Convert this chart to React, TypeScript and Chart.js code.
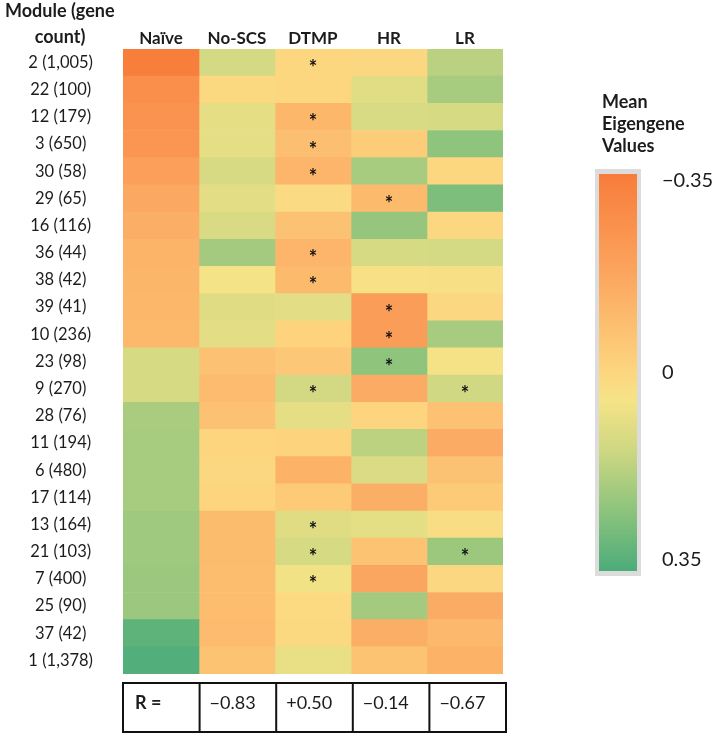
import React, { useEffect, useRef } from "react";
import { Chart, registerables } from "chart.js";

Chart.register(...registerables);

// ---- Data ----
const modules = [
  "2 (1,005)", "22 (100)", "12 (179)", "3 (650)", "30 (58)", "29 (65)", "16 (116)",
  "36 (44)", "38 (42)", "39 (41)", "10 (236)", "23 (98)", "9 (270)", "28 (76)",
  "11 (194)", "6 (480)", "17 (114)", "13 (164)", "21 (103)", "7 (400)", "25 (90)",
  "37 (42)", "1 (1,378)",
];
const groups = ["Naïve", "No-SCS", "DTMP", "HR", "LR"];

const naive = [-0.34, -0.27, -0.25, -0.24, -0.2, -0.16, -0.14, -0.12, -0.115, -0.11, -0.105, 0.12, 0.12, 0.197, 0.2, 0.2, 0.2, 0.215, 0.215, 0.22, 0.22, 0.32, 0.34];
const noScs = [0.124, 0.01, 0.086, 0.088, 0.115, 0.09, 0.113, 0.207, 0.05, 0.1, 0.09, -0.075, -0.096, -0.075, -0.005, 0.005, -0.005, -0.093, -0.093, -0.09, -0.09, -0.096, -0.068];
const dtmp = [0.0, 0.0, -0.11, -0.086, -0.118, 0.02, -0.07, -0.118, -0.1, 0.09, -0.01, -0.054, 0.126, 0.086, -0.01, -0.125, -0.043, 0.1, 0.12, 0.06, 0.015, 0.01, 0.078];
const hr = [0.005, 0.095, 0.113, -0.035, 0.2, -0.1, 0.229, 0.12, 0.038, -0.21, -0.21, 0.24, -0.154, -0.005, 0.167, 0.11, -0.14, 0.088, -0.068, -0.17, 0.208, -0.143, -0.068];
const lr = [0.172, 0.2, 0.12, 0.24, 0.0, 0.27, 0.005, 0.124, 0.035, 0.005, 0.2, 0.048, 0.13, -0.075, -0.154, -0.07, -0.043, 0.025, 0.219, 0.005, -0.15, -0.107, -0.13];

const naiveStars: string[] = [];
const noScsStars: string[] = [];
const dtmpStars = ["2 (1,005)", "12 (179)", "3 (650)", "30 (58)", "36 (44)", "38 (42)", "9 (270)", "13 (164)", "21 (103)", "7 (400)"];
const hrStars = ["29 (65)", "39 (41)", "10 (236)", "23 (98)"];
const lrStars = ["9 (270)", "21 (103)"];

const rLabel = "R =";
const rValues = ["−0.83", "+0.50", "−0.14", "−0.67"];

const legendTitle = ["Mean", "Eigengene", "Values"];
const legendTickValues = [-0.35, 0, 0.35];
const legendTickLabels = ["−0.35", "0", "0.35"];
const scaleMin = -0.35;
const scaleMax = 0.35;

// colour scale stops (value -> rgb)
const colorStops: [number, [number, number, number]][] = [
  [-0.35, [248, 124, 58]],
  [-0.175, [251, 165, 95]],
  [0, [253, 214, 128]],
  [0.05, [245, 227, 135]],
  [0.14, [205, 215, 130]],
  [0.245, [140, 195, 125]],
  [0.35, [76, 172, 122]],
];

function rgb(c: number[]) {
  return `rgb(${Math.round(c[0])},${Math.round(c[1])},${Math.round(c[2])})`;
}
function colorFor(v: number): string {
  if (v <= colorStops[0][0]) return rgb(colorStops[0][1]);
  for (let i = 1; i < colorStops.length; i++) {
    const [v1, c1] = colorStops[i];
    const [v0, c0] = colorStops[i - 1];
    if (v <= v1) {
      const t = (v - v0) / (v1 - v0);
      return rgb([c0[0] + (c1[0] - c0[0]) * t, c0[1] + (c1[1] - c0[1]) * t, c0[2] + (c1[2] - c0[2]) * t]);
    }
  }
  return rgb(colorStops[colorStops.length - 1][1]);
}

const series = [naive, noScs, dtmp, hr, lr];
const stars = [naiveStars, noScsStars, dtmpStars, hrStars, lrStars];

const FONT = "Lato, 'Open Sans', sans-serif";
const TEXT = "#1c1c1c";

const decorPlugin = {
  id: "decor",
  afterDatasetsDraw(chart: any) {
    const ctx = chart.ctx;
    ctx.save();
    ctx.fillStyle = "#111";
    ctx.font = `bold 20px ${FONT}`;
    ctx.textAlign = "center";
    ctx.textBaseline = "middle";
    stars.forEach((list, c) => {
      const meta = chart.getDatasetMeta(c);
      list.forEach((m) => {
        const r = modules.indexOf(m);
        if (r < 0) return;
        const p = meta.data[r].getCenterPoint();
        ctx.fillText("*", p.x, p.y + 6);
      });
    });
    ctx.restore();
  },
  afterDraw(chart: any) {
    const ctx = chart.ctx;
    const ca = chart.chartArea;
    const xs = chart.scales.x;
    ctx.save();

    // Row axis title
    ctx.fillStyle = TEXT;
    ctx.font = `bold 18px ${FONT}`;
    ctx.textBaseline = "middle";
    ctx.textAlign = "left";
    ctx.fillText("Module (gene", 5, 11);
    ctx.textAlign = "center";
    ctx.fillText("count)", 60, 37);

    // R table
    const tTop = ca.bottom + 9;
    const tBot = ca.bottom + 58;
    const tLeft = xs.getPixelForValue(0);
    const tRight = xs.getPixelForValue(groups.length) + 3;
    ctx.strokeStyle = "#111";
    ctx.lineWidth = 2;
    ctx.strokeRect(tLeft, tTop, tRight - tLeft, tBot - tTop);
    const colEdges: number[] = [];
    for (let c = 0; c <= groups.length; c++) {
      colEdges.push(tLeft + ((tRight - tLeft) * c) / groups.length);
    }
    for (let c = 1; c < groups.length; c++) {
      ctx.beginPath();
      ctx.moveTo(colEdges[c], tTop);
      ctx.lineTo(colEdges[c], tBot);
      ctx.stroke();
    }
    ctx.fillStyle = TEXT;
    ctx.textAlign = "left";
    ctx.textBaseline = "middle";
    ctx.font = `bold 18px ${FONT}`;
    ctx.fillText(rLabel, colEdges[0] + 12, tTop + 20);
    ctx.font = `18px ${FONT}`;
    rValues.forEach((t, i) => {
      ctx.fillText(t, colEdges[i + 1] + 10, tTop + 20);
    });

    // Colour legend
    const lx = ca.right + 96;
    ctx.font = `bold 18px ${FONT}`;
    ctx.textAlign = "left";
    legendTitle.forEach((t, i) => ctx.fillText(t, lx + 3, 102 + i * 22));
    const barT = ca.top + 125;
    const barB = barT + 397;
    const barL = lx;
    const barR = lx + 38;
    ctx.fillStyle = "#dcdcdd";
    ctx.fillRect(barL - 4, barT - 5, barR - barL + 8, barB - barT + 10);
    const grad = ctx.createLinearGradient(0, barT, 0, barB);
    colorStops.forEach(([v, c]) => {
      grad.addColorStop((v - scaleMin) / (scaleMax - scaleMin), rgb(c));
    });
    ctx.fillStyle = grad;
    ctx.fillRect(barL, barT, barR - barL, barB - barT);
    ctx.fillStyle = TEXT;
    ctx.font = `20px ${FONT}`;
    legendTickValues.forEach((v, i) => {
      let y = barT + ((v - scaleMin) / (scaleMax - scaleMin)) * (barB - barT);
      y = Math.max(barT + 7, Math.min(barB - 11, y));
      ctx.fillText(legendTickLabels[i], barR + 25, y);
    });
    ctx.restore();
  },
};

export default function App() {
  const ref = useRef<HTMLCanvasElement | null>(null);
  useEffect(() => {
    if (!ref.current) return;
    const chart = new Chart(ref.current, {
      type: "bar",
      data: {
        labels: modules,
        datasets: series.map((vals, c) => ({
          label: groups[c],
          data: vals.map(() => [c, c + 1]),
          backgroundColor: vals.map(colorFor),
          borderWidth: 0,
          barPercentage: 1,
          categoryPercentage: 1,
          grouped: false,
        })) as any,
      },
      options: {
        indexAxis: "y",
        animation: false,
        responsive: false,
        maintainAspectRatio: false,
        events: [],
        layout: { padding: { left: 0, top: 0, right: 217, bottom: 63 } },
        plugins: { legend: { display: false }, tooltip: { enabled: false } },
        scales: {
          x: {
            type: "linear",
            position: "top",
            min: 0,
            max: groups.length,
            grid: { display: false, drawTicks: false },
            border: { display: false },
            afterBuildTicks: (s: any) => {
              s.ticks = groups.map((_, i) => ({ value: i + 0.5 }));
            },
            afterFit: (s: any) => {
              s.height = 49;
            },
            ticks: {
              autoSkip: false,
              maxRotation: 0,
              padding: 0,
              color: TEXT,
              font: { family: FONT, size: 17, weight: "bold" },
              callback: (_v: any, i: number) => groups[i],
            },
          },
          y: {
            type: "category",
            grid: { display: false, drawTicks: false },
            border: { display: false },
            afterFit: (s: any) => {
              s.width = 123;
            },
            ticks: {
              autoSkip: false,
              crossAlign: "center",
              padding: 30,
              color: TEXT,
              font: { family: FONT, size: 16.5 },
            },
          },
        },
      } as any,
      plugins: [decorPlugin],
    });
    return () => chart.destroy();
  }, []);
  return (
    <div style={{ position: "fixed", left: 0, top: 0, width: 720, height: 737, background: "#fff" }}>
      <canvas ref={ref} width={720} height={737} style={{ display: "block" }} />
    </div>
  );
}
